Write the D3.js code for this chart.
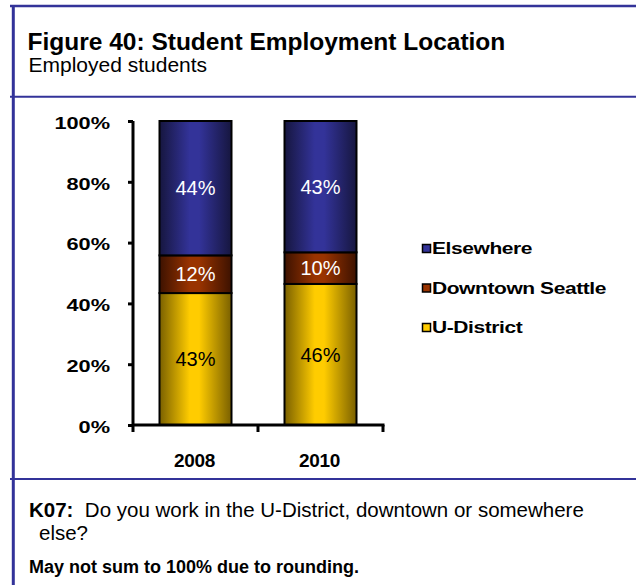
<!DOCTYPE html>
<html>
<head>
<meta charset="utf-8">
<script src="https://cdn.jsdelivr.net/npm/d3@7"></script>
<style>
  html, body { margin: 0; padding: 0; background: #fff; }
  svg { display: block; font-family: "Liberation Sans", Arial, sans-serif; }
</style>
</head>
<body>
<svg id="chart" width="636" height="585"></svg>
<script>
// ---- data ----
const categories = ["2008", "2010"];
const seriesNames = ["U-District", "Downtown Seattle", "Elsewhere"];
const uDistrict = [43.4, 46.4];
const downtown = [12.4, 10.4];
const elsewhere = [44.2, 43.2];
const yTicks = [0, 20, 40, 60, 80, 100];
const legendOrder = ["Elsewhere", "Downtown Seattle", "U-District"];

// ---- styles ----
const brightColors = { "U-District": "#ffcc00", "Downtown Seattle": "#993300", "Elsewhere": "#333399" };
const darkColors = { "U-District": "#7a6000", "Downtown Seattle": "#3d1200", "Elsewhere": "#16163f" };
const labelColors = { "U-District": "#000", "Downtown Seattle": "#fff", "Elsewhere": "#fff" };
const frameColor = "#333399";
const sxAxis = 1.36;   // horizontal stretch of the chart's axis fonts
const sxLegend = 1.31;

const svg = d3.select("#chart");

// ---- frame ----
svg.append("line").attr("x1", 10).attr("x2", 636).attr("y1", 6).attr("y2", 6)
  .attr("stroke", frameColor).attr("stroke-width", 2.5);
svg.append("line").attr("x1", 13.3).attr("x2", 13.3).attr("y1", 5).attr("y2", 585)
  .attr("stroke", frameColor).attr("stroke-width", 3);
[96.7, 479].forEach(yy => {
  svg.append("line").attr("x1", 10).attr("x2", 636).attr("y1", yy).attr("y2", yy)
    .attr("stroke", frameColor).attr("stroke-width", 2);
});

// ---- header ----
svg.append("text").attr("x", 27.5).attr("y", 49.5).attr("font-size", 24.5).attr("font-weight", "bold")
  .attr("fill", "#000").text("Figure 40: Student Employment Location");
svg.append("text").attr("x", 28.5).attr("y", 72).attr("font-size", 21)
  .attr("fill", "#000").text("Employed students");

// ---- footer ----
const f1 = svg.append("text").attr("x", 29).attr("y", 517).attr("font-size", 20.5).attr("fill", "#000");
f1.append("tspan").attr("font-weight", "bold").text("K07:");
f1.append("tspan").text("\u00a0 Do you work in the U-District, downtown or somewhere");
svg.append("text").attr("x", 39).attr("y", 540).attr("font-size", 20.5).attr("fill", "#000").text("else?");
svg.append("text").attr("x", 29).attr("y", 573).attr("font-size", 18).attr("font-weight", "bold")
  .attr("fill", "#000").text("May not sum to 100% due to rounding.");

// ---- scales ----
const y = d3.scaleLinear().domain([0, 100]).range([425, 121]);
const x = d3.scaleBand().domain(categories).range([133, 383]).paddingInner(0).paddingOuter(0);
const barW = x.bandwidth() * 0.576;

// ---- gradients ----
const defs = svg.append("defs");
seriesNames.forEach((s, i) => {
  const g = defs.append("linearGradient").attr("id", "grad" + i)
    .attr("x1", "0%").attr("x2", "100%").attr("y1", "0%").attr("y2", "0%");
  g.append("stop").attr("offset", "0%").attr("stop-color", darkColors[s]);
  g.append("stop").attr("offset", "42%").attr("stop-color", brightColors[s]);
  g.append("stop").attr("offset", "55%").attr("stop-color", brightColors[s]);
  g.append("stop").attr("offset", "100%").attr("stop-color", darkColors[s]);
});

// ---- stack ----
const table = categories.map((c, i) => ({
  category: c,
  "U-District": uDistrict[i],
  "Downtown Seattle": downtown[i],
  "Elsewhere": elsewhere[i]
}));
const stacked = d3.stack().keys(seriesNames)(table);

const layers = svg.append("g").selectAll("g").data(stacked).join("g")
  .attr("fill", (d, i) => "url(#grad" + i + ")");
layers.selectAll("rect").data(d => d).join("rect")
  .attr("x", d => x(d.data.category) + (x.bandwidth() - barW) / 2)
  .attr("width", barW)
  .attr("y", d => y(d[1]))
  .attr("height", d => y(d[0]) - y(d[1]))
  .attr("stroke", "#000").attr("stroke-width", 2);

// data labels
svg.append("g").selectAll("g").data(stacked).join("g")
  .selectAll("text").data(d => d.map(p => ({ p, key: d.key }))).join("text")
  .attr("x", d => x(d.p.data.category) + x.bandwidth() / 2)
  .attr("y", d => (y(d.p[0]) + y(d.p[1])) / 2)
  .attr("text-anchor", "middle").attr("dy", "0.36em")
  .attr("font-size", 20)
  .attr("fill", d => labelColors[d.key])
  .text(d => Math.round(d.p[1] - d.p[0]) + "%");

// ---- y axis ----
const yAxis = svg.append("g").attr("transform", "translate(133,0)")
  .call(d3.axisLeft(y).tickValues(yTicks).tickSize(5).tickFormat(d => d + "%"));
yAxis.select(".domain").attr("d", "M0,121V432").attr("stroke", "#000").attr("stroke-width", 3);
yAxis.selectAll(".tick line").attr("stroke", "#000").attr("stroke-width", 3);
yAxis.selectAll(".tick text")
  .attr("x", -23 / sxAxis).attr("dy", "0.45em")
  .attr("transform", `scale(${sxAxis},1)`)
  .attr("font-size", 16).attr("font-weight", "bold").attr("font-family", "'Liberation Sans', Arial, sans-serif")
  .attr("fill", "#000");

// ---- x axis ----
const xAxis = svg.append("g").attr("transform", "translate(0,425)");
xAxis.append("line").attr("x1", 133).attr("x2", 384.5).attr("y1", 0).attr("y2", 0)
  .attr("stroke", "#000").attr("stroke-width", 3);
xAxis.selectAll("line.tk").data(categories).join("line").attr("class", "tk")
  .attr("x1", d => x(d) + x.bandwidth()).attr("x2", d => x(d) + x.bandwidth())
  .attr("y1", 0).attr("y2", 7).attr("stroke", "#000").attr("stroke-width", 3);
xAxis.selectAll("text").data(categories).join("text")
  .attr("x", d => x(d) + x.bandwidth() / 2 - 1).attr("y", 42)
  .attr("text-anchor", "middle").attr("font-size", 19).attr("font-weight", "bold")
  .attr("letter-spacing", -0.3).attr("fill", "#000")
  .text(d => d);

// ---- legend ----
const legend = svg.append("g").selectAll("g").data(legendOrder).join("g")
  .attr("transform", (d, i) => `translate(422,${248.5 + i * 39.5})`);
legend.append("rect").attr("x", 0.5).attr("y", -4).attr("width", 8).attr("height", 8)
  .attr("fill", d => brightColors[d]).attr("stroke", "#000").attr("stroke-width", 1.5);
legend.append("text")
  .attr("transform", `translate(10,0) scale(${sxLegend},1)`)
  .attr("dy", "0.36em").attr("font-size", 16).attr("font-weight", "bold")
  .attr("letter-spacing", -0.3).attr("fill", "#000")
  .text(d => d);
</script>
</body>
</html>
